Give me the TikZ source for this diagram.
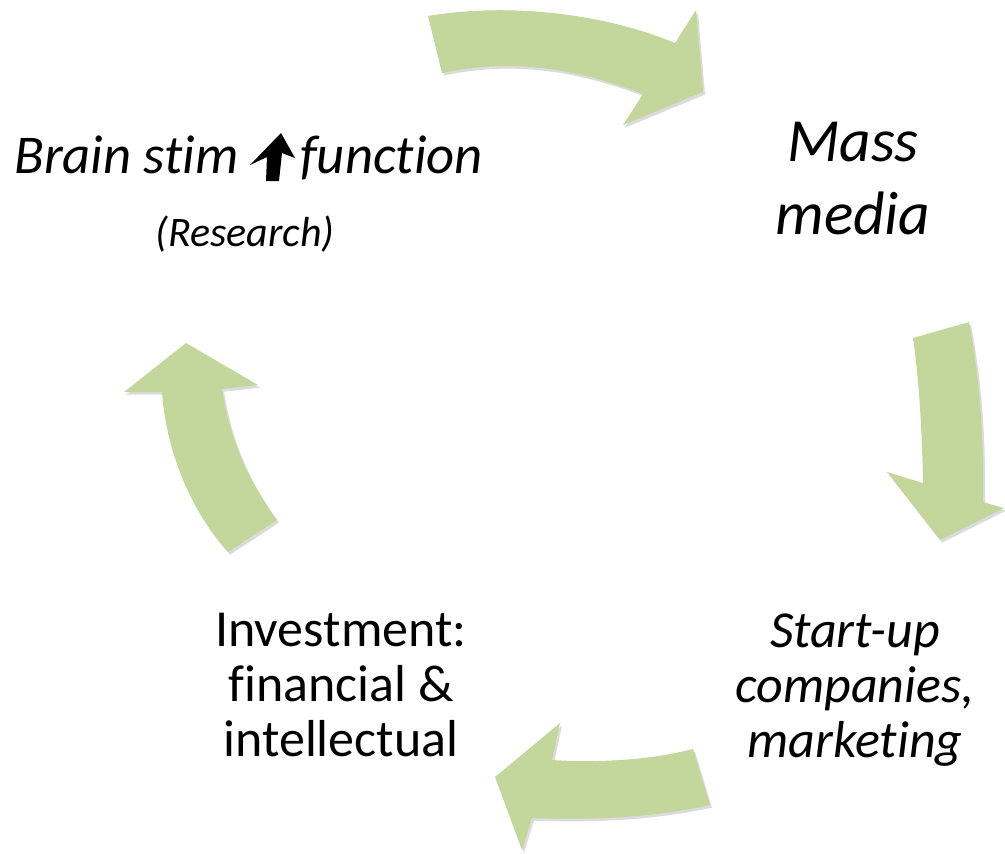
\documentclass[tikz,border=0pt]{standalone}
\usepackage{fontspec}
\setmainfont{Carlito}[Ligatures=NoCommon]
\usetikzlibrary{shadows}
\definecolor{verdeflecha}{HTML}{C3D69B}
\tikzset{
  flecha/.style={fill=verdeflecha, draw=none,
    drop shadow={shadow xshift=1.5pt, shadow yshift=-2pt, opacity=0.2, fill=black!70}},
  texto/.style={align=center, inner sep=0pt, text=black},
}
\begin{document}
\begin{tikzpicture}[x=0.75pt, y=-0.75pt]
  \useasboundingbox (0,0) rectangle (1005,853);
  %flechas
  \path[flecha] (428,16) .. controls (505,3) and (600,12) .. (675,43) -- (696,10) -- (703,92) -- (623,125) -- (643,94) .. controls (575,68) and (510,58) .. (442,73) -- cycle;
  \path[flecha] (913,338) -- (969,322) .. controls (980,380) and (984,440) .. (983,502) -- (1004,508) -- (940,540) -- (887,472) -- (923,483) .. controls (922,430) and (919,380) .. (913,338) -- cycle;
  \path[flecha] (693,749) -- (710,805) .. controls (650,818) and (590,820) .. (532,818) -- (522,850) -- (495,777) -- (560,723) -- (552,760) .. controls (600,763) and (650,760) .. (693,749) -- cycle;
  \path[flecha] (228,552) -- (277,520) .. controls (248,480) and (230,440) .. (222,389) -- (258,385) -- (186,343) -- (124,392) -- (162,392) .. controls (166,450) and (190,510) .. (228,552) -- cycle;

  %textos
  \node[texto, anchor=base west, font=\fontsize{41}{49}\selectfont\itshape] (brain) at (14,173) {Brain stim};
  \fill (281,133) -- (295,158) -- (282,153) -- (279,181) -- (266,181) -- (267,157) -- (250,165) -- cycle;
  \node[texto, anchor=base west, font=\fontsize{41}{49}\selectfont\itshape] (funcion) at (300,173) {function};
  \node[texto, anchor=base, font=\fontsize{31.5}{38}\selectfont\itshape] (research) at (245,246) {(Research)};
  \node[texto, anchor=north, font=\fontsize{46}{55}\selectfont\itshape] (mass) at (853,122) {Mass\\media};
  \node[texto, anchor=north, font=\fontsize{39}{41.25}\selectfont\itshape] (startup) at (855,614) {Start-up\\companies,\\marketing};
  \node[texto, anchor=north, font=\fontsize{39}{41.25}\selectfont] (invest) at (341,613) {Investment:\\financial \&\\intellectual};
\end{tikzpicture}
\end{document}
